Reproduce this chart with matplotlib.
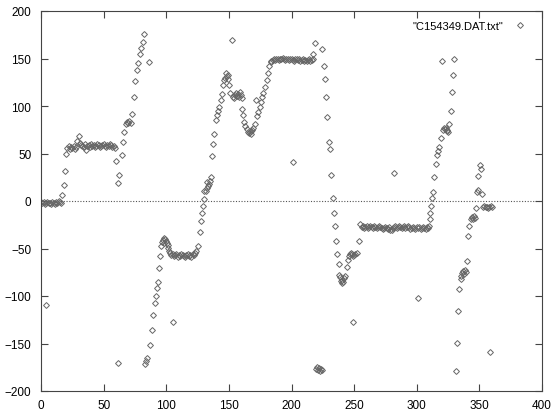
import matplotlib
matplotlib.use("Agg")
import matplotlib.pyplot as plt

# flat start around zero
flat0_x = [0, 1, 2, 3, 4, 5, 6, 7, 8, 9, 10, 11, 12, 13, 14, 15, 16]
flat0_y = [-1, -2, -1, -3, -2, -1, -2, -2, -3, -1, -2, -3, -1, -2, 0, -1, -2]

# first climb and plateau near 58
rise1_x = [17, 18, 19, 20, 21, 22, 23, 24, 25, 26, 27, 28, 29, 30, 31]
rise1_y = [6, 17, 32, 49, 56, 58, 55, 57, 56, 58, 55, 57, 63, 68, 61]
plat1_x = [32, 33, 34, 35, 36, 37, 38, 39, 40, 41, 42, 43, 44, 45, 46, 47, 48, 49,
           50, 51, 52, 53, 54, 55, 56, 57, 58, 59]
plat1_y = [59, 58, 57, 60, 54, 58, 59, 57, 60, 58, 59, 57, 58, 60, 59, 57, 58, 59,
           60, 58, 57, 59, 58, 60, 59, 57, 58, 56]

# climb to +175
rise2_x = [60.2, 61.2, 62.6, 64.4, 65.5, 66.5, 67.5, 68.5, 69.5, 70.5, 71.5, 73.0,
           74.3, 75.2, 76.5, 77.4, 78.8, 79.7, 81.3, 82.5, 86.5]
rise2_y = [42, 19, 27, 48, 62, 73, 81, 83, 82, 84, 82, 92,
           109, 126, 138, 145, 155, 161, 167, 176, 146]

# wrapped part from -172 up to plateau near -57
neg1_x = [83.0, 83.8, 84.5, 87.3, 88.7, 89.7, 90.8, 91.7, 92.5, 93.7, 94.6, 95.3,
          96.0, 96.8, 97.4, 98.0, 98.6, 99.2, 99.8, 100.4, 101.0, 101.7, 102.4]
neg1_y = [-172, -168, -165, -152, -136, -120, -107, -100, -92, -85, -71, -58,
          -47, -43, -41, -44, -39, -40, -42, -44, -46, -49, -53]
plat2_x = [103, 104, 105, 106, 107, 108, 109, 110, 111, 112, 113, 114, 115, 116,
           117, 118, 119, 120, 121, 122, 123, 124]
plat2_y = [-55, -57, -56, -58, -57, -56, -59, -57, -58, -56, -57, -58, -59, -57,
           -56, -58, -57, -59, -56, -57, -55, -53]

# long climb with a hump
rise3_x = [125.6, 127.0, 127.8, 128.5, 129.2, 129.8, 130.5, 131.5, 132.3, 132.8,
           133.3, 134.0, 135.0, 135.7, 136.8, 137.6, 138.4, 139.7, 140.3, 141.2,
           142.4, 143.5, 144.3, 145.6, 146.1, 146.9, 147.7, 148.3, 149.0, 149.5,
           150.3, 150.9, 153.3, 154.0, 155.0, 155.7, 156.5, 157.2, 158.0, 158.8,
           159.5, 160.2, 160.6, 161.5, 162.3, 163.2, 164.2, 165.0, 165.8, 166.5,
           167.3, 168.0, 168.8, 169.5, 170.9, 171.7, 172.7, 173.5, 174.9, 175.8,
           176.4, 177.5, 178.8, 180.2, 181.5, 182.4, 183.3]
rise3_y = [-47, -33, -21, -13, -5, 2, 11, 11, 14, 20,
           16, 18, 21, 25, 47, 60, 71, 85, 91, 95,
           99, 106, 113, 122, 127, 130, 135, 132, 133, 128,
           122, 114, 110, 108, 112, 114, 111, 113, 110, 115,
           112, 108, 97, 91, 83, 79, 76, 73, 72, 73,
           71, 74, 75, 77, 81, 106, 90, 94, 99, 104,
           110, 114, 120, 127, 135, 142, 146]

# plateau near 148
plat3_x = [184, 185, 186, 187, 188, 189, 190, 191, 192, 193, 194, 195, 196, 197,
           198, 199, 200, 201, 202, 203, 204, 205, 206, 207, 208, 209, 210, 211,
           212, 213, 214, 215, 216, 217]
plat3_y = [147, 148, 149, 148, 150, 149, 148, 149, 150, 151, 149, 148, 150, 149,
           148, 149, 150, 148, 147, 149, 150, 148, 149, 147, 148, 149, 147, 148,
           147, 148, 149, 147, 148, 149]

# fall from +166 to the -80 dip and plateau near -56
fall1_x = [217.5, 218.8, 224.6, 226.0, 226.7, 227.5, 228.6, 229.8, 230.6, 231.5,
           232.8, 233.9, 234.7, 235.5, 236.6, 237.7, 238.3, 239.0, 239.5, 240.0,
           240.6, 241.2, 241.8, 242.6, 244.0, 244.9, 246.2, 246.9, 247.6, 248.3,
           249.4, 250.2, 251.0, 252.0, 253.9]
fall1_y = [155, 166, 160, 142, 128, 109, 88, 62, 55, 27,
           3, -13, -26, -42, -56, -66, -78, -80, -84, -86,
           -83, -85, -81, -79, -69, -62, -58, -56, -55, -56,
           -58, -57, -56, -55, -42]
low1_x = [219.5, 220.5, 221.2, 222.0, 222.8, 223.5, 224.5]
low1_y = [-177, -175, -178, -176, -179, -177, -178]

# plateau near -27
plat4_x = [255, 256, 257, 258, 259, 260, 261, 262, 263, 264, 265, 266, 267, 268,
           269, 270, 271, 272, 273, 274, 275, 276, 277, 278, 279, 280, 281, 282,
           283, 284, 285, 286, 287, 288, 289, 290, 291, 292, 293, 294, 295, 296,
           297, 298, 299, 300, 301, 302, 303, 304, 305, 306, 307, 308, 309, 310]
plat4_y = [-24, -27, -26, -28, -27, -26, -28, -27, -26, -27, -28, -26, -27, -28,
           -27, -26, -27, -28, -29, -28, -27, -28, -29, -27, -30, -31, -28, -27,
           -26, -28, -27, -26, -27, -28, -27, -26, -28, -27, -26, -27, -29, -28,
           -27, -28, -29, -27, -28, -27, -29, -28, -27, -28, -29, -27, -28, -26]

# last climb, wrap and small swing
rise4_x = [310.6, 310.2, 311.3, 312.2, 313.2, 314.0, 315.3, 316.0, 317.2, 318.0,
           319.3, 320.4, 321.3, 322.0, 322.6, 323.2, 323.8, 324.4, 325.2, 326.0,
           327.2, 328.4, 329.2, 330.0]
rise4_y = [-19, -13, -5, 3, 10, 25, 39, 48, 53, 57,
           66, 147, 75, 77, 76, 77, 75, 74, 73, 81,
           95, 115, 133, 150]
neg2_x = [331.2, 332.0, 333.0, 334.0, 335.1, 335.7, 336.5, 337.2, 337.8, 338.4,
          339.1, 340.4, 341.2, 342.0, 343.2, 344.0, 344.7, 345.4, 346.2, 347.0,
          347.8, 349.0, 349.3, 350.4, 351.0, 352.4, 353, 354, 355, 356, 357, 358,
          359, 360]
neg2_y = [-179, -149, -116, -93, -82, -79, -76, -74, -77, -73,
          -75, -63, -37, -26, -19, -17, -19, -16, -18, -7,
          10, 26, 12, 38, 34, 7, -6, -5, -6, -6, -7, -6,
          -5, -6]

# isolated points
outlier_x = [4, 61.5, 105.6, 152.2, 201, 249, 282, 301, 358.5]
outlier_y = [-109, -171, -127, 169, 41, -127, 30, -102, -159]

xs = (flat0_x + rise1_x + plat1_x + rise2_x + neg1_x + plat2_x + rise3_x + plat3_x
      + fall1_x + low1_x + plat4_x + rise4_x + neg2_x + outlier_x)
ys = (flat0_y + rise1_y + plat1_y + rise2_y + neg1_y + plat2_y + rise3_y + plat3_y
      + fall1_y + low1_y + plat4_y + rise4_y + neg2_y + outlier_y)

plt.rcParams['font.family'] = ['Liberation Sans', 'DejaVu Sans']

fig = plt.figure(figsize=(5.53, 4.14), dpi=100)
ax = fig.add_axes([41 / 553, 1 - 392 / 414, 501 / 553, 380 / 414])

ax.axhline(0, color="#555555", lw=0.8, ls=(0, (1, 1.5)), zorder=1)
ax.plot(xs, ys, ls="none", marker="D", markersize=3.0, markerfacecolor="none",
        markeredgecolor="#666666", markeredgewidth=0.7, label='"C154349.DAT.txt"',
        zorder=2)

ax.set_xlim(0, 400)
ax.set_ylim(-200, 200)
ax.set_xticks([0, 50, 100, 150, 200, 250, 300, 350, 400])
ax.set_yticks([-200, -150, -100, -50, 0, 50, 100, 150, 200])
ax.tick_params(direction="in", length=5, width=0.8, top=True, right=True,
               labelsize=8.5, color="#444444")
ax.tick_params(axis="x", pad=6)
ax.tick_params(axis="y", pad=7)
for s in ax.spines.values():
    s.set_color("#444444")
    s.set_linewidth(0.8)

ax.legend(loc="upper right", frameon=False, markerfirst=False, fontsize=8,
          handlelength=1.0, handletextpad=1.0, borderaxespad=0.4,
          bbox_to_anchor=(0.985, 0.998))

fig.savefig("out.png", dpi=100)
